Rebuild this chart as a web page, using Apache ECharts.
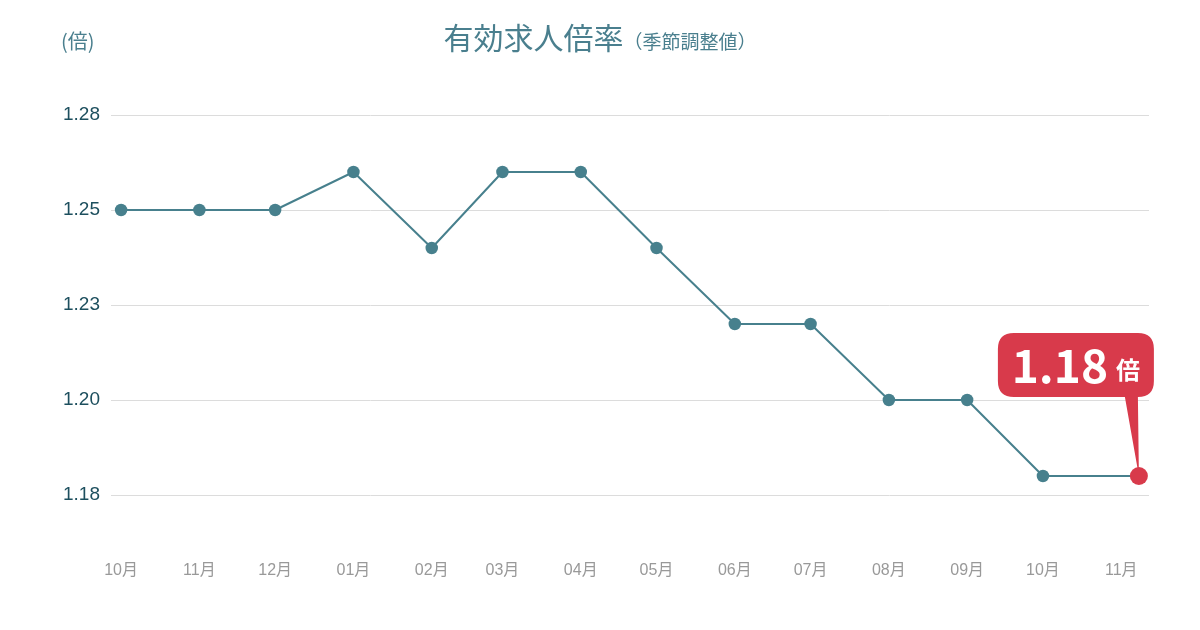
<!DOCTYPE html>
<html>
<head>
<meta charset="utf-8">
<script src="https://cdn.jsdelivr.net/npm/echarts@6.0.0/dist/echarts.min.js"></script>
<style>
  html, body { margin: 0; padding: 0; background: #fff; }
  #chart { width: 1200px; height: 630px; }
</style>
</head>
<body>
<div id="chart"></div>
<script>
// 月次データ(最終点は吹き出し付き)
var months = ['2022-10-01', '2022-11-01', '2022-12-01', '2023-01-01', '2023-02-01', '2023-03-01', '2023-04-01',
  '2023-05-01', '2023-06-01', '2023-07-01', '2023-08-01', '2023-09-01', '2023-10-01', '2023-11-08'];
var ratios = [1.25, 1.25, 1.25, 1.26, 1.24, 1.26, 1.26, 1.24, 1.22, 1.22, 1.20, 1.20, 1.18, 1.18];
var yTickLabels = ['1.18', '1.20', '1.23', '1.25', '1.28'];
var axisRange = ['2022-09-27', '2023-11-12'];

var teal = '#47808d';
var red = '#d83a4b';
var fontLatin = '"Liberation Sans", "Noto Sans CJK JP", sans-serif';
var fontCjk = '"Noto Sans CJK JP", sans-serif';

var lastIdx = ratios.length - 1;
var seriesData = months.map(function (m, i) {
  var d = { value: [m, ratios[i]] };
  if (i === lastIdx) {
    d.symbolSize = 18;
    d.itemStyle = { color: red };
  }
  return d;
});

// 吹き出し: 角丸の箱 + 下向きのしっぽ (156 x 143)
var balloon = 'path://M16 0 H140 Q156 0 156 16 V48 Q156 64 140 64 L141 143 L127 64 H16 Q0 64 0 48 V16 Q0 0 16 0 Z';

var chart = echarts.init(document.getElementById('chart'));
chart.setOption({
  backgroundColor: '#fff',
  animation: false,
  title: {
    text: '{main|有効求人倍率}{sub|（季節調整値）}',
    left: 'center',
    top: 18,
    textStyle: {
      fontWeight: 'normal',
      rich: {
        main: { fontSize: 30, fontWeight: 'normal', color: '#4a7f8e', fontFamily: fontCjk, verticalAlign: 'bottom' },
        sub: { fontSize: 19, fontWeight: 'normal', color: '#4a7f8e', fontFamily: fontCjk, verticalAlign: 'bottom', padding: [0, 0, 2, 0] }
      }
    }
  },
  graphic: [{
    type: 'text',
    left: 61,
    top: 31,
    style: { text: '(倍)', fill: '#4a7f8e', font: '20px ' + fontCjk }
  }],
  grid: { left: 111, right: 51, top: 115, bottom: 135 },
  xAxis: {
    type: 'time',
    min: axisRange[0],
    max: axisRange[1],
    minInterval: 28 * 86400000,
    maxInterval: 31 * 86400000,
    axisLine: { show: false },
    axisTick: { show: false },
    splitLine: { show: false },
    axisLabel: {
      margin: 68,
      fontSize: 16,
      color: '#999',
      fontFamily: fontLatin,
      hideOverlap: false,
      formatter: function (val) {
        var d = new Date(val);
        if (d.getDate() !== 1) return '';
        var m = d.getMonth() + 1;
        return (m < 10 ? '0' + m : '' + m) + '月';
      }
    }
  },
  yAxis: {
    type: 'value',
    min: 1.175,
    max: 1.275,
    interval: 0.025,
    axisLine: { show: false },
    axisTick: { show: false },
    splitLine: { lineStyle: { color: '#dcdcdc', width: 1 } },
    axisLabel: {
      margin: 11,
      fontSize: 19,
      color: '#1d4f5e',
      fontFamily: fontLatin,
      formatter: function (val, idx) { return yTickLabels[idx]; }
    }
  },
  series: [{
    type: 'line',
    data: seriesData,
    symbol: 'circle',
    symbolSize: 12.5,
    lineStyle: { color: teal, width: 2 },
    itemStyle: { color: teal },
    z: 3,
    markPoint: {
      symbol: balloon,
      symbolSize: [156, 143],
      symbolKeepAspect: false,
      symbolOffset: [-63, -71.5],
      itemStyle: { color: red },
      z: 2,
      label: {
        show: true,
        position: 'inside',
        offset: [0, -39],
        formatter: function () {
          return '{num|' + ratios[lastIdx].toFixed(2) + '}{unit|倍}';
        },
        rich: {
          num: { fontSize: 46, fontWeight: 'bold', color: '#fff', fontFamily: fontCjk },
          unit: { fontSize: 24, fontWeight: 'bold', color: '#fff', fontFamily: fontCjk, padding: [8, 0, 0, 8] }
        }
      },
      data: [{ coord: [months[lastIdx], ratios[lastIdx]] }]
    }
  }]
});
</script>
</body>
</html>
